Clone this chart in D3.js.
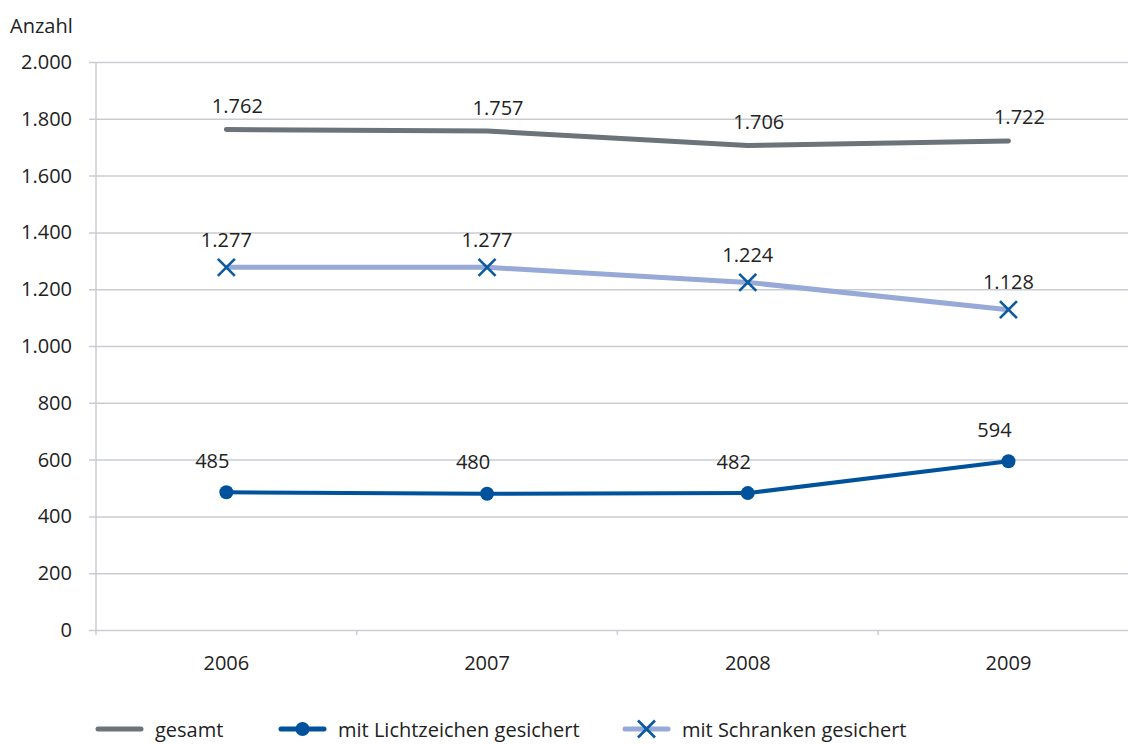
<!DOCTYPE html>
<html>
<head>
<meta charset="utf-8">
<script src="https://cdn.jsdelivr.net/npm/d3@7"></script>
<style>
  html, body { margin: 0; padding: 0; background: #fff; }
  svg { display: block; font-family: "Open Sans", "DejaVu Sans", sans-serif; }
</style>
</head>
<body>
<svg id="chart" width="1128" height="744"></svg>
<script>
// Bahnübergänge nach Sicherungsart, 2006–2009
const years = ["2006", "2007", "2008", "2009"];
const gesamt = [1762, 1757, 1706, 1722];
const lichtzeichen = [485, 480, 482, 594];
const schranken = [1277, 1277, 1224, 1128];
const yTicks = [0, 200, 400, 600, 800, 1000, 1200, 1400, 1600, 1800, 2000];
const seriesNames = ["gesamt", "mit Lichtzeichen gesichert", "mit Schranken gesichert"];

const fmt = d3.formatLocale({ decimal: ",", thousands: ".", grouping: [3], currency: ["", " €"] }).format(",d");

const svg = d3.select("#chart");
const W = 1128;
const plotLeft = 96, plotTop = 62, plotBottom = 630;
const step = 260.7;

const x = d3.scaleBand().domain(years).range([plotLeft, plotLeft + step * years.length]).padding(0);
const cx = d => x(d) + x.bandwidth() / 2;
const y = d3.scaleLinear().domain([0, 2000]).range([plotBottom, plotTop]);

const gridColor = "#c9cdd2";
const textColor = "#222";

// horizontal grid lines + y labels
const yAxis = d3.axisLeft(y).tickValues(yTicks).tickFormat(fmt)
  .tickSize(-(W - plotLeft)).tickPadding(24);
const gy = svg.append("g").attr("transform", `translate(${plotLeft},0)`).call(yAxis);
gy.select(".domain").remove();
gy.selectAll(".tick line").attr("x1", -7).attr("stroke", gridColor).attr("stroke-width", 1.5);
gy.selectAll(".tick text").attr("fill", textColor).attr("font-size", 20)
  .attr("font-family", "'Open Sans', sans-serif");

// vertical axis line
svg.append("line").attr("x1", plotLeft).attr("x2", plotLeft).attr("y1", plotTop).attr("y2", plotBottom + 5)
  .attr("stroke", gridColor).attr("stroke-width", 1.5);

// category axis
const xAxis = d3.axisBottom(x).tickSize(0).tickPadding(26);
const gx = svg.append("g").attr("transform", `translate(0,${plotBottom})`).call(xAxis);
gx.select(".domain").remove();
gx.selectAll(".tick text").attr("fill", textColor).attr("font-size", 20)
  .attr("font-family", "'Open Sans', sans-serif");
// boundary ticks between categories
svg.append("g").selectAll("line").data(years.slice(1)).join("line")
  .attr("x1", d => x(d)).attr("x2", d => x(d))
  .attr("y1", plotBottom).attr("y2", plotBottom + 5)
  .attr("stroke", gridColor).attr("stroke-width", 1.5);

// axis title
svg.append("text").attr("x", 10).attr("y", 33).attr("font-size", 20).attr("fill", textColor)
  .text("Anzahl");

const line = d3.line().x((d, i) => cx(years[i])).y(d => y(d));

const colors = { gesamt: "#6c747a", licht: "#00529c", schrLine: "#97a9d7", schrMark: "#0a5aa2" };

// gesamt
svg.append("path").datum(gesamt).attr("d", line).attr("fill", "none")
  .attr("stroke", colors.gesamt).attr("stroke-width", 5).attr("stroke-linecap", "round")
  .attr("stroke-linejoin", "round");

// mit Schranken gesichert
svg.append("path").datum(schranken).attr("d", line).attr("fill", "none")
  .attr("stroke", colors.schrLine).attr("stroke-width", 5).attr("stroke-linejoin", "round");
const xMark = (g, s) => {
  g.append("line").attr("x1", -s).attr("y1", -s).attr("x2", s).attr("y2", s);
  g.append("line").attr("x1", -s).attr("y1", s).attr("x2", s).attr("y2", -s);
};
svg.append("g").selectAll("g").data(schranken).join("g")
  .attr("transform", (d, i) => `translate(${cx(years[i])},${y(d)})`)
  .attr("stroke", colors.schrMark).attr("stroke-width", 2.6)
  .each(function () { xMark(d3.select(this), 8.5); });

// mit Lichtzeichen gesichert
svg.append("path").datum(lichtzeichen).attr("d", line).attr("fill", "none")
  .attr("stroke", colors.licht).attr("stroke-width", 4).attr("stroke-linejoin", "round");
svg.append("g").selectAll("circle").data(lichtzeichen).join("circle")
  .attr("cx", (d, i) => cx(years[i])).attr("cy", d => y(d)).attr("r", 7)
  .attr("fill", colors.licht);

// value labels
function labels(values, dx, dy) {
  svg.append("g").selectAll("text").data(values).join("text")
    .attr("x", (d, i) => cx(years[i]) + dx).attr("y", d => y(d) + dy)
    .attr("text-anchor", "middle").attr("dominant-baseline", "central")
    .attr("font-size", 20).attr("fill", textColor)
    .text(d => fmt(d));
}
labels(gesamt, 11, -24);
labels(schranken, 0, -28);
labels(lichtzeichen, -14, -32);

// legend
const ly = 729;
const leg = svg.append("g");
function legendItem(x0, name, kind) {
  const g = leg.append("g").attr("transform", `translate(${x0},${ly})`);
  if (kind === "gesamt") {
    g.append("line").attr("x1", 0).attr("x2", 43).attr("stroke", colors.gesamt)
      .attr("stroke-width", 5).attr("stroke-linecap", "round");
  } else if (kind === "licht") {
    g.append("line").attr("x1", 0).attr("x2", 43).attr("stroke", colors.licht)
      .attr("stroke-width", 5).attr("stroke-linecap", "round");
    g.append("circle").attr("cx", 21.5).attr("cy", 0).attr("r", 7).attr("fill", colors.licht);
  } else {
    g.append("line").attr("x1", 0).attr("x2", 43).attr("stroke", colors.schrLine)
      .attr("stroke-width", 5).attr("stroke-linecap", "round");
    const m = g.append("g").attr("transform", "translate(21.5,0)")
      .attr("stroke", colors.schrMark).attr("stroke-width", 2.6);
    xMark(m, 8.5);
  }
  g.append("text").attr("x", 57).attr("y", 0).attr("dominant-baseline", "central")
    .attr("font-size", 20).attr("fill", textColor).text(name);
}
legendItem(98, seriesNames[0], "gesamt");
legendItem(281, seriesNames[1], "licht");
legendItem(625, seriesNames[2], "schr");
</script>
</body>
</html>
